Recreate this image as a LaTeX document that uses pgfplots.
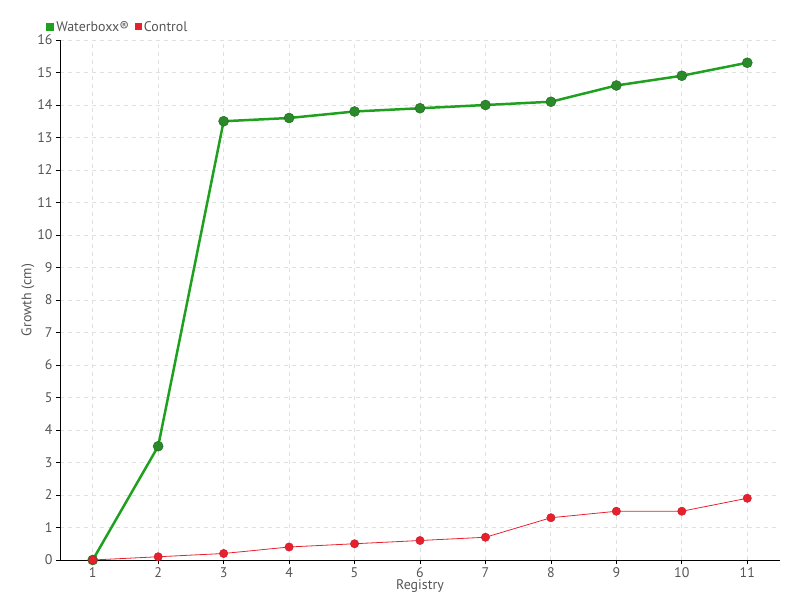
\documentclass[border=0pt]{standalone}
\usepackage{fontspec}
\setmainfont{PT Sans}
\usepackage{pgfplots}
\pgfplotsset{compat=1.18}
\definecolor{wgreen}{HTML}{1FA01F}
\definecolor{wgreendk}{HTML}{2A8A2A}
\definecolor{cred}{HTML}{E8202E}
\definecolor{txt}{HTML}{555555}
\definecolor{gridc}{HTML}{E0E0E0}
\begin{document}
\begin{tikzpicture}
\useasboundingbox (-60bp,-40bp) rectangle (740bp,560bp);
\begin{axis}[
  scale only axis,
  width=720bp, height=520bp,
  xmin=0.5, xmax=11.5, ymin=0, ymax=16,
  xtick={1,...,11}, ytick={0,...,16},
  axis lines=left,
  axis line style={black, -, line width=1pt},
  tick align=outside,
  major tick length=4bp,
  tick style={black, line width=0.8pt},
  grid=major,
  major grid style={gridc, dash pattern=on 4bp off 4bp, line width=0.9pt},
  font=\fontsize{14}{16}\selectfont,
  tick label style={txt},
  /pgf/number format/assume math mode=true,
  xlabel={Registry}, ylabel={Growth (cm)},
  label style={txt},
  xlabel style={yshift=5bp},
  ylabel style={yshift=-4bp},
  legend style={at={(-0.02,1.01)}, anchor=south west, draw=none, fill=none,
    legend columns=-1, text=txt, inner sep=0pt,
    /tikz/every even column/.append style={column sep=4bp}},
  legend cell align=left,
]
\addplot[wgreen, line width=2.5pt, mark=*, mark size=5bp,
  mark options={fill=wgreendk, draw=wgreendk!80!black, line width=0.5pt},
  legend image code/.code={\fill[wgreen] (0bp,-3bp) rectangle (6bp,3bp);}]
  coordinates {(1,0) (2,3.5) (3,13.5) (4,13.6) (5,13.8) (6,13.9) (7,14.0) (8,14.1) (9,14.6) (10,14.9) (11,15.3)};
\addlegendentry{Waterboxx®}
\addplot[cred, line width=0.8pt, mark=*, mark size=4.2bp,
  mark options={fill=cred, draw=cred!85!black, line width=0.4pt},
  legend image code/.code={\fill[cred] (0bp,-3bp) rectangle (6bp,3bp);}]
  coordinates {(1,0) (2,0.1) (3,0.2) (4,0.4) (5,0.5) (6,0.6) (7,0.7) (8,1.3) (9,1.5) (10,1.5) (11,1.9)};
\addlegendentry{Control}
\end{axis}
\end{tikzpicture}
\end{document}
